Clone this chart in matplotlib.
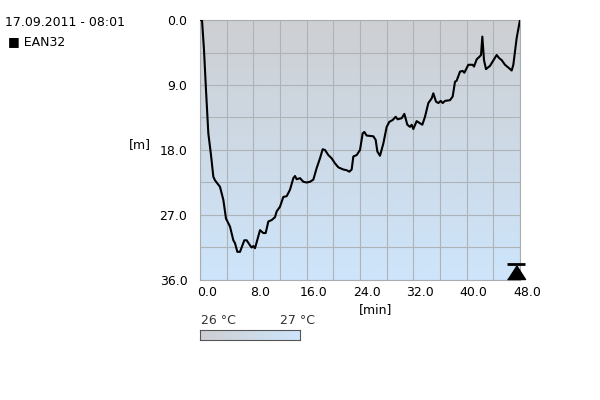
import numpy as np
import matplotlib.pyplot as plt
from matplotlib.colors import LinearSegmentedColormap
import matplotlib.transforms as mtransforms

# dive profile: time [min], depth [m]
t = [0, 0.3, 0.6, 0.9, 1.25, 1.65, 2.0, 2.25, 3.0, 3.5, 3.9, 4.5, 5.0, 5.25, 5.6, 6.0,
     6.65, 7.0, 7.5, 7.75, 8.0, 8.25, 9.0, 9.5, 9.85, 10.25, 10.75, 11.25, 11.5, 12.0,
     12.5, 13.0, 13.5, 14.0, 14.25, 14.5, 15.0, 15.5, 16.0, 16.5, 17.0, 17.5, 18.0,
     18.4, 18.75, 19.25, 19.75, 20.25, 20.75, 21.5, 22.0, 22.4, 22.75, 23.0, 23.5, 24.0,
     24.4, 24.65, 25.0, 26.0, 26.35, 26.6, 27.0, 27.5, 28.0, 28.4, 28.9, 29.35, 29.65,
     30.25, 30.65, 31.1, 31.5, 31.75, 32.0, 32.5, 33.0, 33.35, 33.75, 34.25, 34.75, 35.0,
     35.4, 35.75, 36.1, 36.4, 36.75, 37.5, 37.9, 38.25, 38.5, 39.0, 39.4, 39.65, 40.25,
     40.9, 41.1, 41.5, 41.9, 42.15, 42.35, 42.6, 42.9, 43.5, 43.9, 44.5, 44.9, 45.25,
     45.75, 46.4, 46.75, 47.0, 47.5, 48.0]
depth = [0, 0, 4.15, 9.7, 15.7, 18.7, 21.7, 22.2, 23.1, 24.9, 27.5, 28.6, 30.5, 30.9, 32.1, 32.1,
         30.5, 30.5, 31.2, 31.5, 31.3, 31.6, 29.1, 29.5, 29.5, 27.9, 27.7, 27.3, 26.5, 25.85,
         24.5, 24.4, 23.5, 21.9, 21.6, 22.05, 21.9, 22.4, 22.5, 22.4, 22.1, 20.5, 19.15,
         17.9, 18.0, 18.7, 19.15, 19.85, 20.4, 20.7, 20.8, 21.0, 20.7, 18.9, 18.7, 18.0,
         15.7, 15.5, 16.0, 16.1, 16.6, 18.2, 18.8, 17.1, 14.8, 14.1, 13.85, 13.4, 13.75,
         13.6, 13.0, 14.5, 14.8, 14.5, 15.1, 14.0, 14.3, 14.5, 13.4, 11.5, 10.85, 10.15,
         11.3, 11.5, 11.2, 11.5, 11.2, 11.1, 10.6, 8.55, 8.4, 7.15, 7.05, 7.3, 6.2,
         6.2, 6.45, 5.45, 5.1, 4.85, 2.3, 5.55, 6.8, 6.35, 5.75, 4.85, 5.3, 5.55,
         6.2, 6.7, 7.0, 6.2, 2.5, 0]
x_ticks = [0, 8, 16, 24, 32, 40, 48]
y_ticks = [0, 9, 18, 27, 36]
temp_labels = ["26 °C", "27 °C"]
surface_t = 47.4

cmap = LinearSegmentedColormap.from_list("temp", ["#cdcfd2", "#cde5fb"])

fig = plt.figure(figsize=(6, 4), dpi=100)
ax = fig.add_axes([200 / 600, 1 - 280 / 400, 320 / 600, 260 / 400])

# background gradient
grad = np.linspace(0, 1, 256).reshape(-1, 1)
ax.imshow(grad, extent=[0, 48, 36, 0], aspect="auto", cmap=cmap, zorder=0)

ax.set_xlim(0, 48)
ax.set_ylim(36, 0)
ax.set_xticks(np.arange(0, 49, 4), minor=False)
ax.set_yticks(np.arange(0, 37, 4.5))
ax.grid(True, color="#aeb3b8", linewidth=0.8, zorder=1)
ax.set_xticklabels(["%.1f" % v if v in x_ticks else "" for v in np.arange(0, 49, 4)])
ax.set_yticklabels(["%.1f" % v if v in y_ticks else "" for v in np.arange(0, 37, 4.5)])
ax.tick_params(length=0, labelsize=9, colors="black", pad=4)
ax.tick_params(axis="y", pad=9)
for lab in ax.get_xticklabels():
    lab.set_transform(lab.get_transform() + mtransforms.ScaledTranslation(0.07, 0, fig.dpi_scale_trans))
for s in ax.spines.values():
    s.set_color("#a8adb2")
    s.set_linewidth(0.8)

ax.plot(t, depth, color="black", linewidth=1.5, zorder=3)

# surface marker
tri = [(-9, -7), (9, -7), (0, 7)]
ax.plot([surface_t], [34.95], marker=tri, markersize=13, color="black", linestyle="none", zorder=4, clip_on=False)
ax.plot([surface_t], [33.85], marker="_", markersize=13, markeredgewidth=2, color="black", linestyle="none", zorder=4, clip_on=False)

fig.text(376 / 600, 1 - 310 / 400, "[min]", ha="center", va="center", fontsize=9)
fig.text(140 / 600, 1 - 145 / 400, "[m]", ha="center", va="center", fontsize=9)
fig.text(5 / 600, 1 - 22 / 400, "17.09.2011 - 08:01", ha="left", va="center", fontsize=9)
fig.text(8 / 600, 1 - 42 / 400, "■ EAN32", ha="left", va="center", fontsize=9)

# temperature color bar
cax = fig.add_axes([200 / 600, 1 - 340 / 400, 100 / 600, 10 / 400])
cax.imshow(grad.T, extent=[0, 1, 0, 1], aspect="auto", cmap=cmap)
cax.set_xticks([])
cax.set_yticks([])
for s in cax.spines.values():
    s.set_color("#555555")
    s.set_linewidth(0.8)
fig.text(201 / 600, 1 - 320 / 400, temp_labels[0], ha="left", va="center", fontsize=9, color="#333333")
fig.text(280 / 600, 1 - 320 / 400, temp_labels[1], ha="left", va="center", fontsize=9, color="#333333")

fig.savefig("out.png", dpi=100)
